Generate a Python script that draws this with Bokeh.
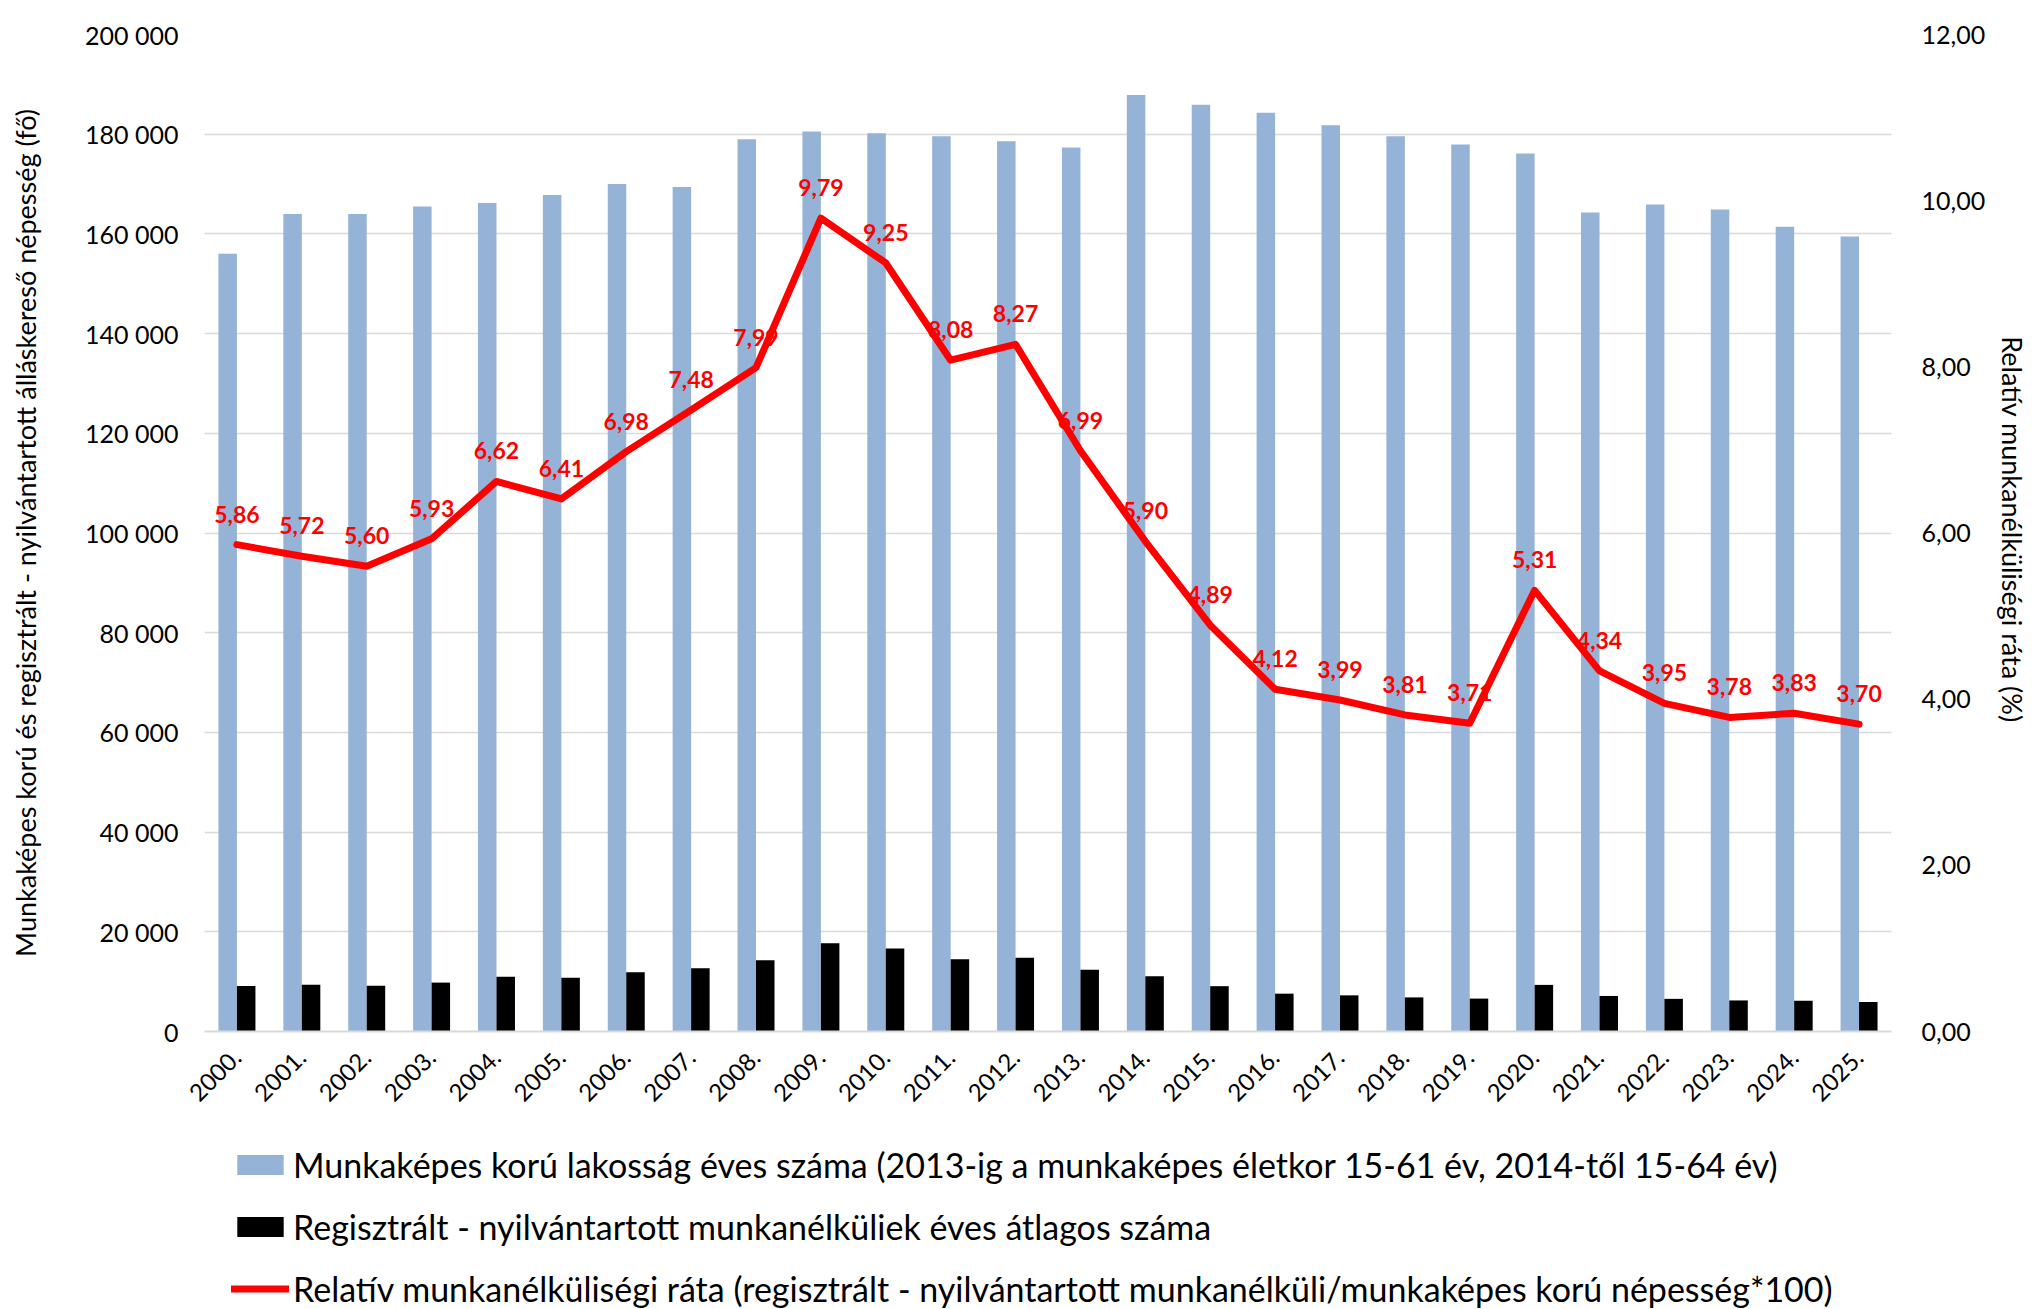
import math
from bokeh.plotting import figure
from bokeh.layouts import column
from bokeh.core.properties import value
from bokeh.models import (ColumnDataSource, FactorRange, Range1d, LinearAxis, FixedTicker,
                          CustomJSTickFormatter, LabelSet, Legend, LegendItem)
from bokeh.transform import dodge
from bokeh.embed import file_html
from bokeh.resources import INLINE

years = ["2000.", "2001.", "2002.", "2003.", "2004.", "2005.", "2006.", "2007.", "2008.", "2009.",
         "2010.", "2011.", "2012.", "2013.", "2014.", "2015.", "2016.", "2017.", "2018.", "2019.",
         "2020.", "2021.", "2022.", "2023.", "2024.", "2025."]
population = [156000, 164000, 164000, 165500, 166200, 167800, 170000, 169400, 179000, 180550,
              180200, 179600, 178600, 177350, 187850, 185900, 184300, 181800, 179600, 177950,
              176150, 164300, 165900, 164900, 161450, 159500]
unemployed = [9140, 9380, 9180, 9810, 11000, 10760, 11870, 12670, 14300, 17680,
              16670, 14510, 14770, 12400, 11080, 9090, 7590, 7250, 6840, 6600,
              9350, 7130, 6550, 6230, 6180, 5900]
rate = [5.86, 5.72, 5.60, 5.93, 6.62, 6.41, 6.98, 7.48, 7.99, 9.79,
        9.25, 8.08, 8.27, 6.99, 5.90, 4.89, 4.12, 3.99, 3.81, 3.71,
        5.31, 4.34, 3.95, 3.78, 3.83, 3.70]
rate_labels = [f"{r:.2f}".replace(".", ",") for r in rate]

legend_labels = [
    "Munkaképes korú lakosság éves száma (2013-ig a munkaképes életkor 15-61 év, 2014-től 15-64 év)",
    "Regisztrált - nyilvántartott munkanélküliek éves átlagos száma",
    "Relatív munkanélküliségi ráta (regisztrált - nyilvántartott munkanélküli/munkaképes korú népesség*100)",
]
left_title = "Munkaképes korú és regisztrált - nyilvántartott álláskereső népesség (fő)"
right_title = "Relatív munkanélküliségi  ráta (%)"

FONT = "Lato"
BLUE = "#95B3D7"
RED = "#FF0000"
GRID = "#D9D9D9"

W = 2042
H_MAIN = 1135
H_LEG = 1309 - H_MAIN
BL, BR = 204, 151

src = ColumnDataSource(dict(year=years, pop=population, unemp=unemployed, rate=rate, lab=rate_labels))

p = figure(x_range=FactorRange(*years, range_padding=0), y_range=Range1d(0, 200000),
           width=W, height=H_MAIN, output_backend="svg", toolbar_location=None,
           min_border_left=BL, min_border_right=BR, min_border_top=34, min_border_bottom=H_MAIN - 1031)
p.outline_line_color = None
p.background_fill_color = "white"
p.border_fill_color = "white"

p.extra_y_ranges = {"rate": Range1d(0, 12)}

bw = 0.285
r_pop = p.vbar(x=dodge("year", -bw / 2, range=p.x_range), top="pop", width=bw, source=src,
               fill_color=BLUE, line_color=None)
r_un = p.vbar(x=dodge("year", bw / 2, range=p.x_range), top="unemp", width=bw, source=src,
              fill_color="black", line_color=None)
r_line = p.line(x="year", y="rate", source=src, y_range_name="rate", line_color=RED,
                line_width=7, line_join="round", line_cap="round")

labels = LabelSet(x="year", y="rate", text="lab", source=src, y_range_name="rate",
                  text_align="center", text_baseline="alphabetic", y_offset=22,
                  text_color=RED, text_font=value(FONT), text_font_style="bold",
                  text_font_size="23px")
p.add_layout(labels)

# left axis
ya = p.yaxis[0]
ya.ticker = FixedTicker(ticks=list(range(0, 200001, 20000)))
ya.formatter = CustomJSTickFormatter(code="return tick.toFixed(0).replace(/\\B(?=(\\d{3})+(?!\\d))/g, ' ');")
ya.axis_line_color = None
ya.major_tick_line_color = None
ya.minor_tick_line_color = None
ya.major_tick_out = 0
ya.major_label_standoff = 26
ya.major_label_text_font = FONT
ya.major_label_text_font_size = "25px"
ya.major_label_text_color = "black"
ya.axis_label = left_title
ya.axis_label_text_font = FONT
ya.axis_label_text_font_size = "27px"
ya.axis_label_text_font_style = "normal"
ya.axis_label_text_color = "black"
ya.axis_label_standoff = 40

# right axis
ra = LinearAxis(y_range_name="rate", ticker=FixedTicker(ticks=[0, 2, 4, 6, 8, 10, 12]),
                formatter=CustomJSTickFormatter(code="return tick.toFixed(2).replace('.', ',');"))
ra.axis_line_color = None
ra.major_tick_line_color = None
ra.minor_tick_line_color = None
ra.major_tick_out = 0
ra.major_label_standoff = 30
ra.major_label_text_font = FONT
ra.major_label_text_font_size = "25px"
ra.major_label_text_color = "black"
ra.axis_label = right_title
ra.axis_label_text_font = FONT
ra.axis_label_text_font_size = "27px"
ra.axis_label_text_font_style = "normal"
ra.axis_label_text_color = "black"
ra.axis_label_standoff = 8
p.add_layout(ra, "right")

# bottom axis
xa = p.xaxis[0]
xa.axis_line_color = GRID
xa.axis_line_width = 2
xa.major_tick_line_color = None
xa.minor_tick_line_color = None
xa.major_tick_out = 0
xa.major_label_orientation = math.pi / 4
xa.major_label_standoff = 22
xa.major_label_text_font = FONT
xa.major_label_text_font_size = "24px"
xa.major_label_text_color = "black"

p.xgrid.grid_line_color = None
p.ygrid.grid_line_color = GRID
p.ygrid.grid_line_width = 1.5

# legend panel below the chart (its frame is aligned with the chart's frame)
lf = figure(width=W, height=H_LEG, x_range=Range1d(0, 1), y_range=Range1d(0, 1),
            output_backend="svg", toolbar_location=None,
            min_border_left=BL, min_border_right=BR, min_border_top=0, min_border_bottom=0)
lf.axis.visible = False
lf.grid.visible = False
lf.outline_line_color = None
nan = float("nan")
key_src = ColumnDataSource(dict(x=[nan], y=[nan]))
g1 = lf.vbar(x="x", top="y", width=0.1, source=key_src, fill_color=BLUE, line_color=None)
g2 = lf.vbar(x="x", top="y", width=0.1, source=key_src, fill_color="black", line_color=None)
g3 = lf.line(x="x", y="y", source=key_src, line_color=RED, line_width=7, line_cap="round")

legend = Legend(items=[LegendItem(label=legend_labels[0], renderers=[g1]),
                       LegendItem(label=legend_labels[1], renderers=[g2]),
                       LegendItem(label=legend_labels[2], renderers=[g3])],
                location=(27, 0), orientation="vertical",
                glyph_width=58, glyph_height=25, label_height=40, spacing=21,
                label_standoff=4, margin=0, padding=0,
                label_text_font=FONT, label_text_font_size="34px", label_text_color="black",
                label_text_baseline="middle",
                border_line_color=None, background_fill_alpha=0)
lf.add_layout(legend, "center")

open("out.html", "w").write(file_html(column(p, lf, spacing=0), INLINE))
